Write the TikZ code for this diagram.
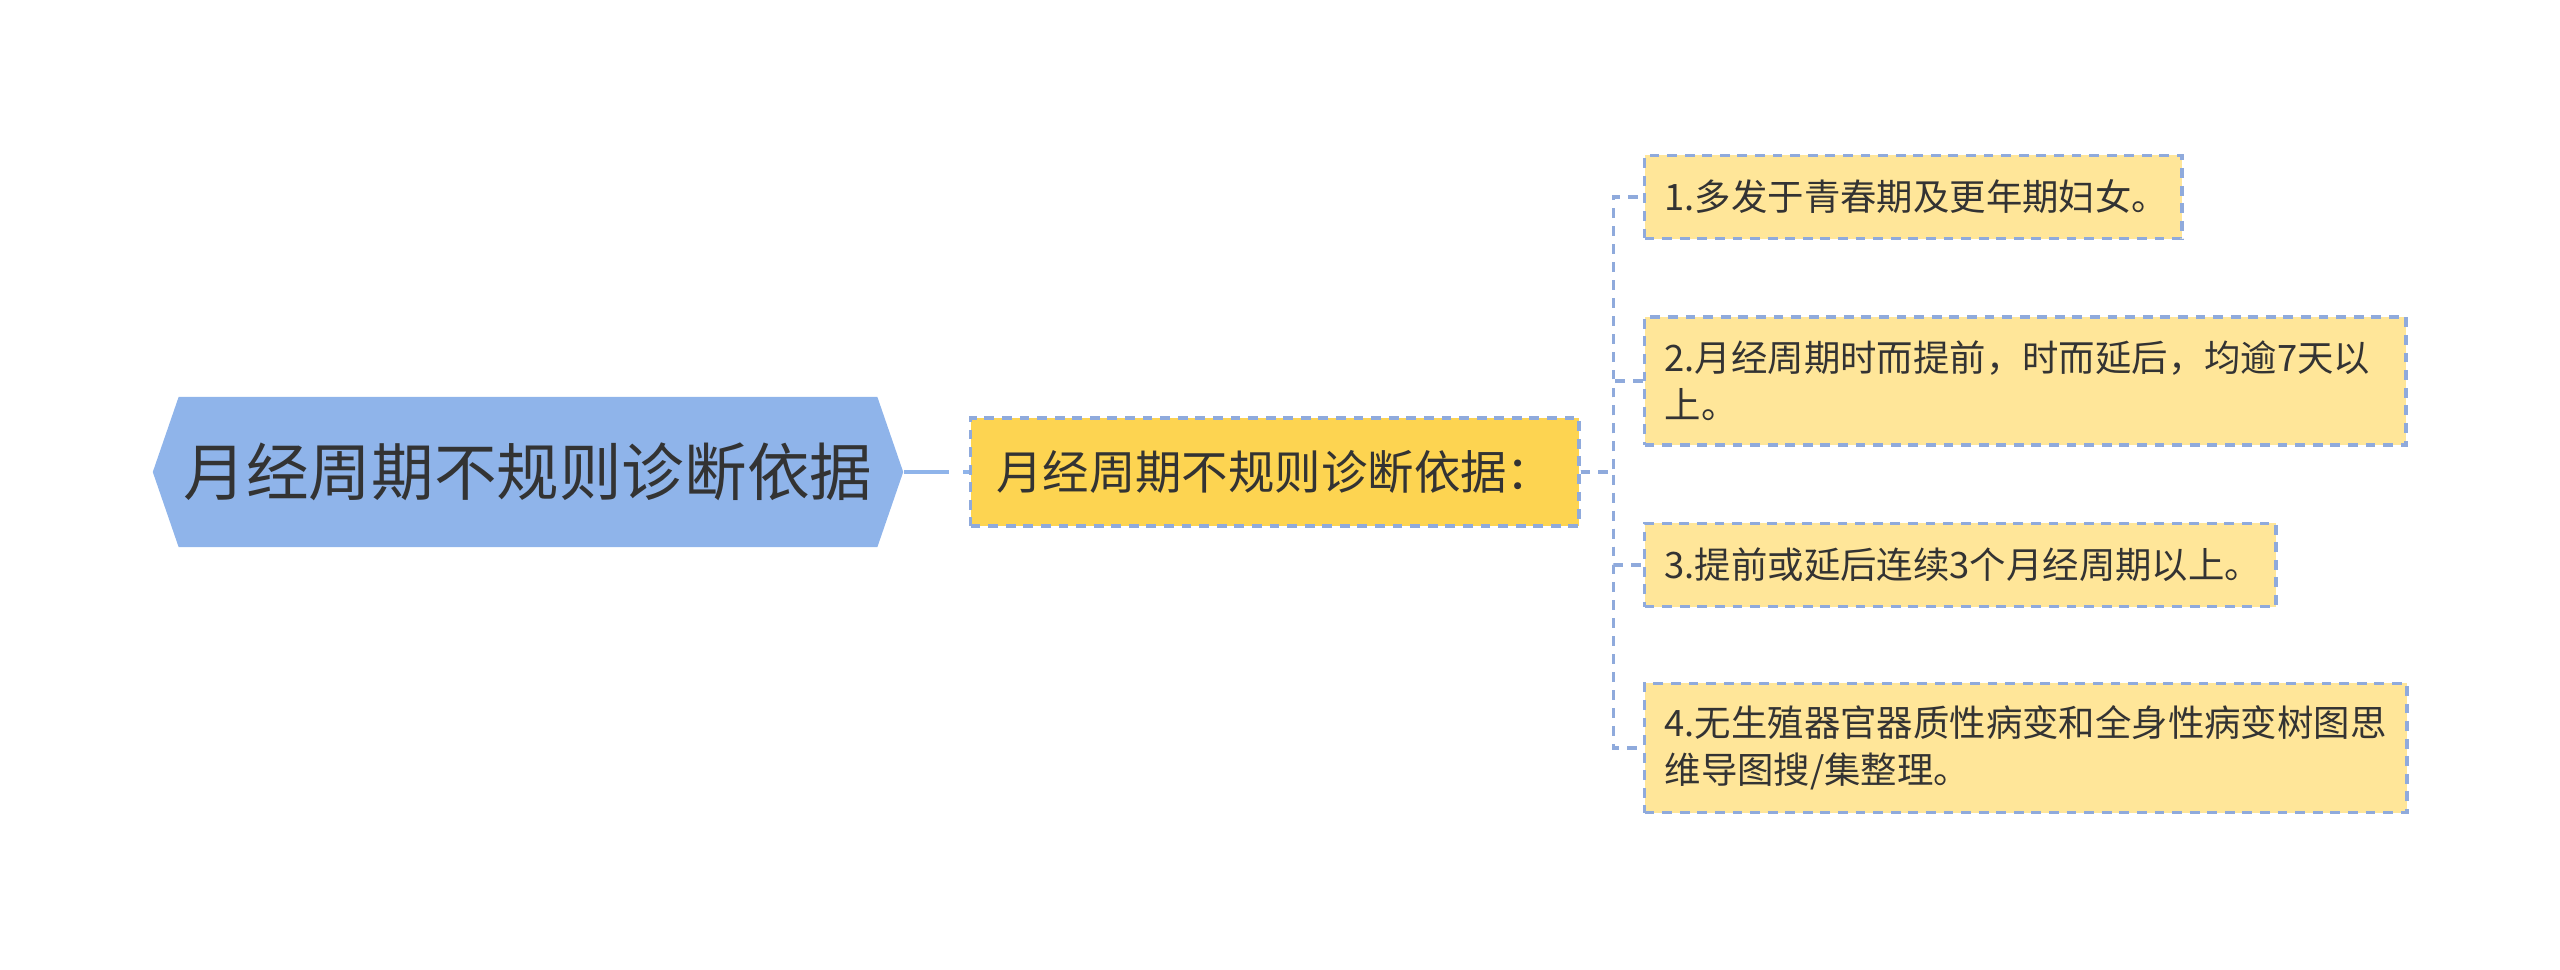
\documentclass[tikz,border=0pt]{standalone}
\usepackage{fontspec}
\setmainfont{Noto Sans CJK SC}
\usepackage{xcolor}
\usepackage{tikz}
\usetikzlibrary{positioning,shapes.symbols}
\definecolor{rootblue}{HTML}{8FB4EA}
\definecolor{subgold}{HTML}{FDD451}
\definecolor{leafyel}{HTML}{FFE699}
\definecolor{edgeblue}{HTML}{8FAADC}
\definecolor{ink}{HTML}{333333}
\tikzset{
  root/.style   = {signal, signal to=west and east, signal pointer angle=142,
                   fill=rootblue, inner sep=0pt, minimum width=7.5cm, minimum height=1.5cm,
                   text=ink, font=\fontsize{17.8pt}{21pt}\selectfont},
  sub/.style    = {draw=edgeblue, dash pattern=on 2.8pt off 2.2pt, line width=0.9pt,
                   fill=subgold, inner sep=0pt, minimum width=6.08cm, minimum height=1.08cm,
                   text=ink, font=\fontsize{13.2pt}{16pt}\selectfont},
  leaf/.style   = {draw=edgeblue, dash pattern=on 2.8pt off 2.2pt, line width=0.9pt,
                   fill=leafyel, inner xsep=0.2cm, inner ysep=0pt, align=left,
                   text=ink, font=\fontsize{10.35pt}{13.3pt}\selectfont},
  trunk/.style  = {draw=rootblue, line width=1.4pt, dash pattern=on 0.45cm off 0.14cm},
  link/.style   = {draw=edgeblue, line width=0.9pt, dash pattern=on 2.8pt off 2.3pt},
}
\begin{document}
\begin{tikzpicture}[x=0.01cm, y=-0.01cm]
  \useasboundingbox (0,0) rectangle (2560,969);

  \node[root] (main) at (528,472) {月经周期不规则诊断依据};
  \node[sub, right=0.65cm of main] (basis) {月经周期不规则诊断依据：};
  \draw[trunk] (main.east) -- (basis.west);

  \node[leaf, anchor=west, text width=4.97cm, minimum height=0.83cm] (l1) at (1643,197)
    {1.多发于青春期及更年期妇女。};
  \node[leaf, anchor=west, text width=7.21cm, minimum height=1.28cm] (l2) at (1643,381)
    {2.月经周期时而提前，时而延后，均逾7天以\\上。};
  \node[leaf, anchor=west, text width=5.91cm, minimum height=0.83cm] (l3) at (1643,565)
    {3.提前或延后连续3个月经周期以上。};
  \node[leaf, anchor=west, text width=7.22cm, minimum height=1.29cm] (l4) at (1643,748)
    {4.无生殖器官器质性病变和全身性病变树图思\\维导图搜/集整理。};

  \draw[link] (basis.east) -- ++(33,0) |- (l1.west);
  \draw[link] (basis.east) -- ++(33,0) |- (l2.west);
  \draw[link] (basis.east) -- ++(33,0) |- (l3.west);
  \draw[link] (basis.east) -- ++(33,0) |- (l4.west);
\end{tikzpicture}
\end{document}
